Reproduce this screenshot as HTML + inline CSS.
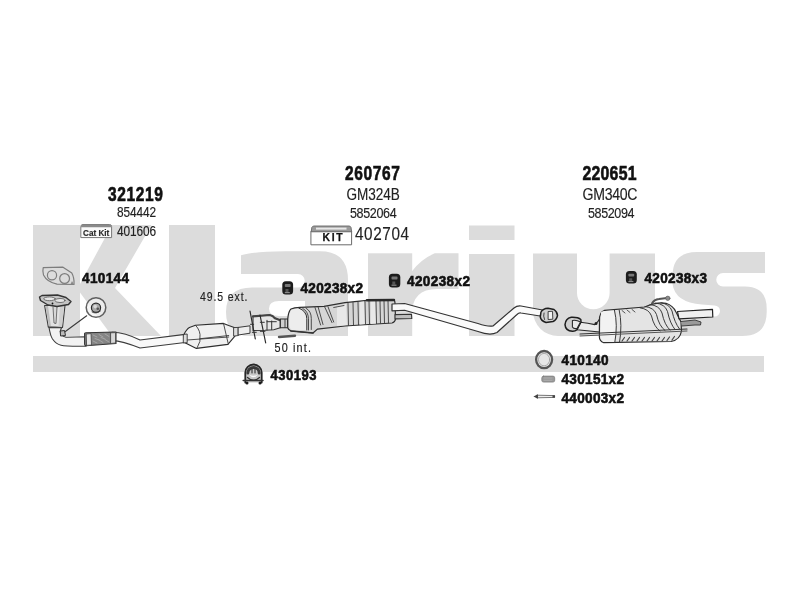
<!DOCTYPE html>
<html><head><meta charset="utf-8">
<style>
html,body{margin:0;padding:0;background:#fff;width:800px;height:600px;overflow:hidden}
svg{display:block;filter:blur(0.3px)}
.b{font-family:"Liberation Sans",sans-serif;font-weight:bold;fill:#111;stroke:#111;stroke-width:0.6px}
.r{font-family:"Liberation Sans",sans-serif;fill:#222;stroke:#222;stroke-width:0.15px}
</style></head><body>
<svg width="800" height="600" viewBox="0 0 800 600" xmlns="http://www.w3.org/2000/svg">
<rect width="800" height="600" fill="#fff"/>
<g id="wm" fill="#dcdcdc">
<rect x="33" y="225" width="47" height="111"/>
<polygon points="80,284 112,225 151.5,225 115,288 161,336 112,336 80,292.5"/>
<rect x="169" y="225" width="46" height="111"/>
<path d="M241,255.3 Q252,251.8 285,251.3 H320 Q348,251.3 348,280 V336 H305 V287.5 H298 A6.7,6.7 0 0 0 298,274 H241 Z"/>
<path fill-rule="evenodd" d="M305.5,287.5 H252 Q226,287.5 226,312 Q226,336 250,336 H305.5 Z M305,301 H279 Q269,301 269,308.5 Q269,316 279,316 H305 Z"/>
<rect x="368" y="253.3" width="44.2" height="82.7"/>
<path d="M412,314 V271.3 A57.4,57.4 0 0 1 434.7,253.3 H458.5 V289 H437 Q412,289 412,314 Z"/>
<rect x="469" y="225.5" width="45.5" height="14.5"/>
<rect x="469" y="254" width="45.5" height="82"/>
<path d="M533,253.5 H577 V293 A16.3,16.3 0 0 0 609.6,293 V253.5 H655 V336 H558 A25,25 0 0 1 533,311 Z"/>
<path d="M765,252 H697 Q672.5,252 672.5,276 V284 Q675,302.5 702,304.5 L714.5,305.5 A5.5,5.5 0 0 1 714.5,316.5 H665 V336 H742 Q766.7,336 766.7,312 V309 Q766.7,286.5 745,286.5 H723 A6.75,6.75 0 0 1 723,273 H765 Z"/>
<rect x="33" y="356" width="731" height="16"/>
</g>
<g id="draw" stroke-linejoin="round" stroke-linecap="round">
<!-- gasket 410144 -->
<g fill="none" stroke="#7d7d7d" stroke-width="1.2">
<path d="M43.2,267.6 L63,267.2 L71.8,273 Q74.5,278 74,284.5 L57,284.2 Q47,282 43.5,275 Q42.5,270 43.2,267.6 Z"/>
<circle cx="52" cy="275.2" r="4.6"/>
<circle cx="64.6" cy="278.5" r="4.9"/>
</g>
<path d="M72,281 L74,284.5 L70.5,284.3 Z" fill="#888"/>
<!-- downpipe bend -->
<path d="M49,327.5 Q50.5,336 52.5,339 Q56,344 61,345.2 Q66,346.5 86,346.2 L86,336.7 L66,337.3 Q60.5,336 60.3,331 L61.5,327.8 Z" fill="#f2f2f2" stroke="#3c3c3c" stroke-width="1.1"/>
<!-- downpipe body -->
<path d="M44.6,305.5 L65,305.5 L62.5,327.5 L48.3,327 Z" fill="#e2e2e2" stroke="#3c3c3c" stroke-width="1.1"/>
<path d="M45.5,306 L49,326.5 L51,326.5 L48,306 Z" fill="#bdbdbd"/>
<path d="M53,307 L54,323 L56,323.5 L57,307" fill="#d8d8d8" stroke="#555" stroke-width="0.8"/>
<path d="M60,306 L58.5,326.5 L62,326.5 L64,306 Z" fill="#cfcfcf"/>
<path d="M48.3,327 L62.5,327.5" stroke="#444" stroke-width="1"/>
<!-- flange -->
<path d="M39.5,297 L42,295.5 L57.5,295 L66,297.5 L71,301.5 L68.5,304.5 L57,306.5 L48,305 L40.5,300.5 Z" fill="#c4c4c4" stroke="#333" stroke-width="1.4"/>
<ellipse cx="49.5" cy="298.8" rx="5.8" ry="1.9" fill="#e6e6e6" stroke="#555" stroke-width="0.8"/>
<ellipse cx="60" cy="300.5" rx="5" ry="2" fill="#e6e6e6" stroke="#555" stroke-width="0.8"/>
<circle cx="52.5" cy="303.5" r="0.9" fill="#111"/>
<!-- junction + leader -->
<path d="M60.5,331 L64.5,330.5 L65.5,335.5 L61,336 Z" fill="#bbb" stroke="#333" stroke-width="1"/>
<path d="M86.7,315.8 L65,331.7" stroke="#3a3a3a" stroke-width="1.1" fill="none"/>
<!-- ring seal -->
<circle cx="96" cy="307.5" r="9.8" fill="#f2f2f2" fill-opacity="0.7" stroke="#606060" stroke-width="1.5"/>
<circle cx="96" cy="307.8" r="4.6" fill="#a8a8a8" stroke="#2a2a2a" stroke-width="1.2"/>
<circle cx="95.2" cy="306.6" r="1.8" fill="#d8d8d8"/>
<circle cx="97.8" cy="308.8" r="1.3" fill="#555"/>
<path d="M92,312 Q96,314.5 100.5,311" stroke="#444" stroke-width="0.9" fill="none"/>
<!-- pipe flex to converter -->
<path d="M112,332.25 C122,332.5 130,335 140,340 L185,334.4 L185,342.5 L140,348 C130,344 122,341 112,340.6 Z" fill="#f8f8f8" stroke="#3c3c3c" stroke-width="1.1"/>
<!-- flex pipe -->
<path d="M84.6,334 Q84.4,333 86,332.8 L116,332 L116,343.5 L86,345.8 Q84.4,345.5 84.6,344 Z" fill="#858585" stroke="#333" stroke-width="1.1"/>
<path d="M86.5,334 L91,333.6 L91.5,345 L87,345.4 Z" fill="#e8e8e8" stroke="#444" stroke-width="0.8"/>
<path d="M111,332.8 L115.5,332.6 L115.5,343 L111,343.5 Z" fill="#d8d8d8" stroke="#444" stroke-width="0.8"/>
<path d="M93,335 L97,337 M99,334.5 L103,337 M105,334 L109,336.5 M93,341 L97,343 M99,340 L103,342.5 M105,339.5 L109,342 M95,338.5 L99,340 M101,337.5 L105,339" stroke="#aaa" stroke-width="0.9"/>
<!-- converter -->
<path d="M184,334.4 Q186.5,329 189.4,327.4 L195.5,325.2 L223.5,323.4 L228.7,325.6 L234.9,327.8 L234.9,336.1 L227.9,344.4 L196.4,348.4 L185,342.7 Z" fill="#f0f0f0" stroke="#2e2e2e" stroke-width="1.1"/>
<path d="M195.5,325.2 Q201,331 199.9,338 L199.9,341.4 L197.25,347.5 M187.2,340 L228.7,337 M199.9,338.75 L228.7,335.5 M223.5,323.4 L228.3,344" stroke="#3a3a3a" stroke-width="0.9" fill="none"/>
<path d="M183.7,334.4 L187.2,334 L187.2,342.7 L183.7,342.9 Z" fill="#ddd" stroke="#333" stroke-width="0.9"/>
<path d="M234,327.6 L238.4,327.4 L238.4,335.5 L234,336.1 Z" fill="#ddd" stroke="#333" stroke-width="0.9"/>
<path d="M238.4,327.4 L250,325.8 L250,333.2 L238.4,335 Z" fill="#eee" stroke="#3a3a3a" stroke-width="1"/>
<!-- intermediate pipe -->
<path d="M253,316.3 L269.7,315 Q273,315.5 275,318.3 L280.3,320.3 L280.3,327.7 L273.7,329.7 L265,330.3 L253,330.5 Z" fill="#e6e6e6" stroke="#333" stroke-width="1.1"/>
<path d="M253,316.3 L269.7,315 Q273,315.5 275,318.3 L280.3,320.3" stroke="#444" stroke-width="2.2" fill="none"/>
<path d="M267,320.3 L267,330 M267,321.7 L276.3,321.7 M271.7,321 L271.7,329.7" stroke="#333" stroke-width="1" fill="none"/>
<path d="M280.3,319 L287.7,319 L287.7,327.7 L280.3,327.7 Z" fill="#cfcfcf" stroke="#2a2a2a" stroke-width="1.1"/>
<path d="M285,319.5 L285,327.5" stroke="#333" stroke-width="0.9"/>
<path d="M250,311 L255.3,339 M260,315 L265.7,343" stroke="#2a2a2a" stroke-width="1.2" fill="none"/>
<path d="M250.5,324.3 L253.7,324.3 M252.3,332.3 L256.3,332.3 M260.3,322.3 L264.3,322.3 M260.3,331.3 L265,331.3" stroke="#333" stroke-width="1"/>
<!-- middle silencer -->
<path d="M287.7,319 Q288.5,311 291,309 Q294,307.5 300,307.3 L324,306.4 L345,302.7 L367,300.3 L394,300 Q395,301 395,303 L395.5,319 Q395,322.5 392,323 L345,326 L317.4,329.1 L313,333 L291,331 Q288,329.5 287.7,327.7 Z" fill="#d6d6d6" stroke="#2e2e2e" stroke-width="1.2"/>
<path d="M291,310 Q295,308.5 299,308.5 Q306,313 306.5,319 L306.5,330 L292,330 Q289,328 289,324 L289.5,314 Z" fill="#ededed"/>
<path d="M337,306 L346,304 L347,325 L337,326 Z M360,302 L364,301.5 L365,324 L360,324.5 Z M371,301 L375,300.8 L376,323.5 L371,324 Z" fill="#e8e8e8"/>
<path d="M298.7,308 Q306.8,311 306.8,318.6 L306.8,330" stroke="#333" stroke-width="1" fill="none"/>
<path d="M302.8,308.5 Q308,311 308.5,318.6 L308.5,330 M306,308.2 Q311.3,311 311.3,318.6 L311.3,329.5 M315,307.5 L320.6,325 M318.2,307.3 L323,324.5 M324.7,307 L332,322.6 M328,306.8 L333.7,322 M333.7,307.5 L344,305.5 M348,303 L348.5,325.5 M353,302.5 L353.5,325.2 M358,302 L358.5,324.8 M365,301.2 L365.5,324.2 M369,301 L369.5,324 M376,300.6 L376.5,323.6 M380,300.5 L380.5,323.4 M384,300.4 L384.5,323.2 M388,300.3 L388.5,323" stroke="#3c3c3c" stroke-width="0.9" fill="none"/>
<path d="M367,300.3 L394,300" stroke="#2a2a2a" stroke-width="2.4"/>
<path d="M313,333 L291,331" stroke="#333" stroke-width="1.6"/>
<path d="M279,337 L295,335.7" stroke="#555" stroke-width="2.4"/>
<!-- long pipe -->
<path d="M392,304 L404.6,303.5 L478,323.5 Q488,327 493,326 L514,308 Q517,305.5 521,306 L542.5,310 L540,316 L521,313 Q519,312.5 517,314.5 L497,332.5 Q490,336 478,331.5 L404.6,310.25 L392,310.8 Z" fill="#fafafa" stroke="#333" stroke-width="1.2"/>
<path d="M395,314.6 L411.5,314.3 L411.8,318.5 L395,318.9 Z" fill="#bdbdbd" stroke="#333" stroke-width="1.1"/>
<!-- end connector -->
<path d="M541,312 Q543,308.5 548,308.3 L554,309.5 Q557.5,312 557.5,315.5 Q556.5,320 553,321.5 L546,322.5 Q541,321 540.3,317 Z" fill="#d0d0d0" stroke="#1e1e1e" stroke-width="1.5"/>
<path d="M548.5,311.5 L552.5,311.3 L552.8,319.2 L548.5,319.5 Z" fill="#f2f2f2" stroke="#333" stroke-width="0.9"/>
<path d="M544,313 Q543,316 544.5,319.5" stroke="#333" stroke-width="0.9" fill="none"/>
<!-- rear silencer -->
<path d="M580.5,322.3 Q588,323.2 594.8,324.6 L596,323.5 Q598,322 599.5,319 L599.5,332 L577,329.8 Z" fill="#ececec" stroke="#2a2a2a" stroke-width="1.1"/>
<circle cx="596" cy="323.5" r="1.5" fill="#222"/>
<path d="M565,324.6 Q565.5,318.5 571.2,317.3 Q578,317 580.8,319.5 L581,322 L576.9,329.7 Q575,331.5 572.4,331.3 Q565.5,331 565,324.6 Z" fill="#cfcfcf" stroke="#1e1e1e" stroke-width="1.5"/>
<path d="M572.4,320.5 Q576,319.5 580.5,322 L577,328.5 Q573.5,329 572.4,327 Z" fill="#eaeaea" stroke="#2a2a2a" stroke-width="1.1"/>
<path d="M599.5,321 Q599,312 604.6,310.3 L644.6,307 Q658,301.5 666,303.3 Q673,305.5 676,312 L681,322 L681.5,331 Q680,340 671,341.5 L603.75,342.7 Q599.4,341 599.4,337 Z" fill="#e4e4e4" stroke="#2e2e2e" stroke-width="1.2"/>
<path d="M601,313 Q600.5,311.5 605,311 L614,310.5 Q617.5,325 614.5,342 L604,342 Q600.5,341 600.5,336 Z" fill="#f2f2f2"/>
<path d="M614.5,310.4 Q618,325 614.8,342.5 M619.2,310 Q622.5,325 619.5,342.5" stroke="#3a3a3a" stroke-width="1" fill="none"/>
<path d="M622,310.5 L625,313 M627,310 L630,312.5 M632,309.5 L635,312" stroke="#555" stroke-width="1"/>
<path d="M640,307.8 Q649,309 651.5,316 Q654,327 660,331 M645,306.5 Q654,307.5 656.5,314.5 Q659,326 665,330.5 M650,304.5 Q659.5,305.5 662,313 Q664.5,325 670,330 M655.5,303 Q665,304 667.5,311.5 Q670,323.5 675,329.5 M661,302.8 Q669.5,304 672,311 Q674.5,322.5 679.5,329" stroke="#333" stroke-width="0.95" fill="none"/>
<path d="M622,341 L624.5,337.5 M627,341 L629.5,337.5 M632,341 L634.5,337.5 M637,341 L639.5,337.5 M642,341 L644.5,337.5 M647,341 L649.5,337.5 M652,341 L654.5,337.5 M657,341 L659.5,337.5 M662,341 L664.5,337.5 M667,340.5 L669.5,337 M672,340 L674.5,336.5" stroke="#444" stroke-width="1.2"/>
<path d="M580,334 L687,329" stroke="#333" stroke-width="1.2"/>
<path d="M580,336 L687,331" stroke="#555" stroke-width="1"/>
<path d="M652,303.5 Q654,299.5 659,299 L667,298" stroke="#555" stroke-width="2" fill="none"/>
<circle cx="667.8" cy="298.3" r="2.2" fill="#8a8a8a" stroke="#555" stroke-width="0.6"/>
<path d="M677.5,311.5 L712.5,309.4 L712.8,317 L679,318.8 Z" fill="#f0f0f0" stroke="#222" stroke-width="1.2"/>
<path d="M681,321.5 L695,320 L701,322 L700.5,325 L695,325 L682,326" fill="#9a9a9a" stroke="#333" stroke-width="0.9"/>
<!-- rubber icons -->
<g>
<rect x="282.3" y="281.2" width="10.8" height="13.4" rx="3.5" fill="#1c1c1c"/>
<rect x="284.8" y="284" width="5.8" height="3" rx="0.8" fill="#777"/>
<rect x="285.5" y="289" width="3" height="3" fill="#555"/>
<rect x="284.8" y="292" width="5" height="1.2" fill="#888"/>
<rect x="388.9" y="273.8" width="11.4" height="13.6" rx="3.5" fill="#1c1c1c"/>
<rect x="391.5" y="276.6" width="6" height="3" rx="0.8" fill="#777"/>
<rect x="392.3" y="281.5" width="3" height="3" fill="#555"/>
<rect x="391.5" y="284.6" width="5" height="1.2" fill="#888"/>
<rect x="625.9" y="271.1" width="10.9" height="12.4" rx="3.5" fill="#1c1c1c"/>
<rect x="628.4" y="273.8" width="5.8" height="2.8" rx="0.8" fill="#777"/>
<rect x="629.2" y="278.3" width="3" height="3" fill="#555"/>
<rect x="628.4" y="281" width="5" height="1.1" fill="#888"/>
</g>
<!-- clamp 430193 -->
<path d="M245.3,382.5 L245.3,372.5 A8.2,8 0 0 1 261.7,372.5 L261.7,382.5" fill="#c8c8c8" stroke="#262626" stroke-width="1.8"/>
<path d="M247.8,373 A5.7,5.5 0 0 1 259.2,373" fill="none" stroke="#3a3a3a" stroke-width="3"/>
<path d="M252,369 L252,373 M255,369 L255,373" stroke="#222" stroke-width="1"/>
<path d="M247.5,377.5 Q253.5,383 259.5,377.5" fill="none" stroke="#333" stroke-width="1.3"/>
<path d="M249,374.5 Q253.5,380 258,374.5 Q253.5,377 249,374.5 Z" fill="#fafafa"/>
<path d="M243.2,380.5 L263,380.5" stroke="#333" stroke-width="1.5"/>
<circle cx="247" cy="383" r="1.5" fill="#1a1a1a"/>
<circle cx="260" cy="383" r="1.5" fill="#1a1a1a"/>
<!-- small parts -->
<ellipse cx="544.1" cy="359.6" rx="8" ry="8.6" fill="#e6e6e6" stroke="#555" stroke-width="2.3"/>
<ellipse cx="544.1" cy="359.6" rx="5.6" ry="6.2" fill="none" stroke="#999" stroke-width="0.8"/>
<rect x="541.8" y="376.1" width="12.9" height="6" rx="1.8" fill="#9a9a9a" stroke="#777" stroke-width="0.7"/>
<path d="M544,378 L552,378 M544,380.3 L552,380.3" stroke="#bbb" stroke-width="0.6"/>
<path d="M537,395.2 L554.6,395.6 L554.6,397.4 L537,397.8 Z" fill="#eee" stroke="#666" stroke-width="0.9"/>
<path d="M533.4,396.5 L538,394.2 L538,398.8 Z" fill="#444"/>
<rect x="552.5" y="395.3" width="2.5" height="2.4" fill="#444"/>
<!-- cat kit box -->
<path d="M80.8,237.2 L80.8,226.5 Q80.8,224.5 83,224.5 L109.5,224.5 Q111.6,224.5 111.6,226.5 L111.6,237.2 Z" fill="#fafafa" stroke="#777" stroke-width="1"/>
<path d="M81,227.2 L81,226.3 Q81,224.6 83,224.6 L109.5,224.6 Q111.4,224.6 111.4,226.3 L111.4,227.2 Z" fill="#8a8a8a"/>
<text x="83" y="235.7" font-family="Liberation Sans" font-weight="bold" font-size="9.6" fill="#2a2a2a" stroke="#2a2a2a" stroke-width="0.2" textLength="26.3" lengthAdjust="spacingAndGlyphs">Cat Kit</text>
<!-- KIT box -->
<rect x="311.3" y="231.2" width="40.3" height="13.6" fill="#fff" stroke="#6a6a6a" stroke-width="1"/>
<path d="M311.3,231.4 L311.8,227.5 Q312.5,226 314,226 L349,226 Q350.5,226 351,227.5 L351.6,231.4 Z" fill="#9a9a9a" stroke="#666" stroke-width="0.9"/>
<rect x="316" y="227.6" width="30.5" height="2" fill="#e8e8e8"/>
<text x="322.4" y="241.2" font-family="Liberation Sans" font-weight="bold" font-size="10.4" fill="#111" stroke="#111" stroke-width="0.25" textLength="20.3" lengthAdjust="spacing">KIT</text>
</g>


<text class="b" transform="translate(108,201.4) scale(0.8,1)" x="0" y="0" font-size="19.4" textLength="68.75" lengthAdjust="spacing">321219</text>
<text class="r" transform="translate(117,216.7) scale(0.86,1)" x="0" y="0" font-size="13.8" textLength="45.35" lengthAdjust="spacing">854442</text>
<text class="r" transform="translate(117,235.7) scale(0.86,1)" x="0" y="0" font-size="13.8" textLength="45.35" lengthAdjust="spacing">401606</text>
<text class="b" transform="translate(82,282.7) scale(0.93,1)" x="0" y="0" font-size="14.6" textLength="50.54" lengthAdjust="spacing">410144</text>
<text class="b" transform="translate(345,180.2) scale(0.8,1)" x="0" y="0" font-size="19.4" textLength="68.75" lengthAdjust="spacing">260767</text>
<text class="r" transform="translate(346.5,199.8) scale(0.86,1)" x="0" y="0" font-size="15.8" textLength="61.98" lengthAdjust="spacing">GM324B</text>
<text class="r" transform="translate(350,217.7) scale(0.86,1)" x="0" y="0" font-size="14.6" textLength="54.30" lengthAdjust="spacing">5852064</text>
<text class="r" transform="translate(355,240.2) scale(0.86,1)" x="0" y="0" font-size="17.8" textLength="62.79" lengthAdjust="spacing">402704</text>
<text class="b" transform="translate(582.5,180.1) scale(0.8,1)" x="0" y="0" font-size="19.8" textLength="67.50" lengthAdjust="spacing">220651</text>
<text class="r" transform="translate(582.5,200.0) scale(0.86,1)" x="0" y="0" font-size="16.4" textLength="63.95" lengthAdjust="spacing">GM340C</text>
<text class="r" transform="translate(588,217.6) scale(0.86,1)" x="0" y="0" font-size="14.6" textLength="54.07" lengthAdjust="spacing">5852094</text>
<text class="b" transform="translate(644.5,282.7) scale(0.93,1)" x="0" y="0" font-size="14.6" textLength="67.20" lengthAdjust="spacing">420238x3</text>
<text class="b" transform="translate(300.5,293.2) scale(0.93,1)" x="0" y="0" font-size="14.6" textLength="67.20" lengthAdjust="spacing">420238x2</text>
<text class="b" transform="translate(407,286.1) scale(0.93,1)" x="0" y="0" font-size="14.6" textLength="67.74" lengthAdjust="spacing">420238x2</text>
<text class="r" transform="translate(200,301.1) scale(0.86,1)" x="0" y="0" font-size="12.2" textLength="55.23" lengthAdjust="spacing">49.5 ext.</text>
<text class="r" transform="translate(274.5,352.1) scale(0.86,1)" x="0" y="0" font-size="12.6" textLength="42.44" lengthAdjust="spacing">50 int.</text>
<text class="b" transform="translate(270.5,379.7) scale(0.93,1)" x="0" y="0" font-size="14.0" textLength="49.46" lengthAdjust="spacing">430193</text>
<text class="b" transform="translate(561.5,365.3) scale(0.93,1)" x="0" y="0" font-size="14.6" textLength="50.54" lengthAdjust="spacing">410140</text>
<text class="b" transform="translate(561.5,384.1) scale(0.93,1)" x="0" y="0" font-size="14.6" textLength="67.20" lengthAdjust="spacing">430151x2</text>
<text class="b" transform="translate(561.5,402.7) scale(0.93,1)" x="0" y="0" font-size="14.6" textLength="67.20" lengthAdjust="spacing">440003x2</text>
</svg>
</body></html>
